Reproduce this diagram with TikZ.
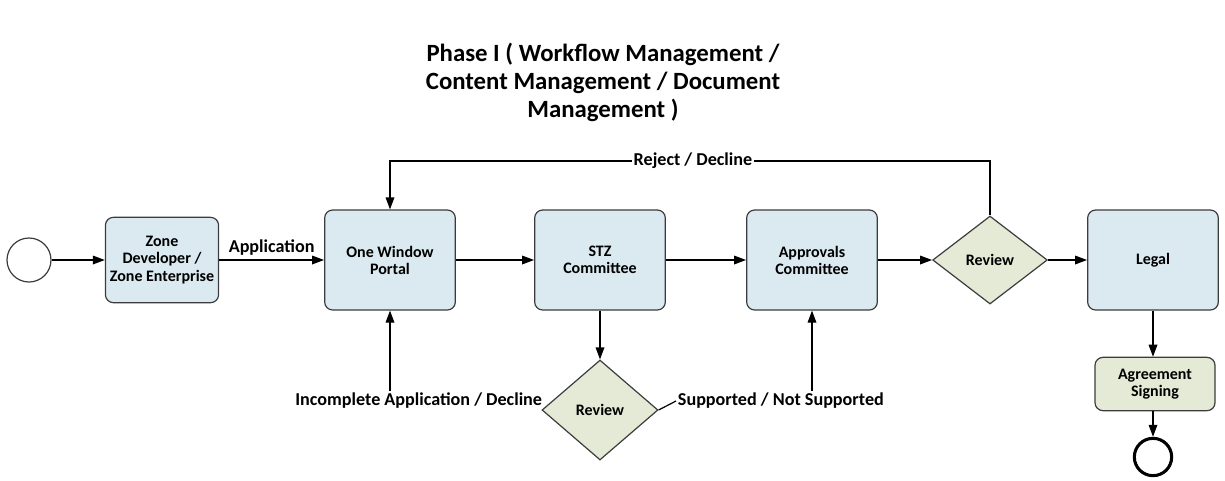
\documentclass[tikz,border=0pt]{standalone}
\usepackage{fontspec}
\setmainfont{Carlito}
\usetikzlibrary{arrows.meta,shapes.geometric}

\definecolor{taskblue}{RGB}{219,234,241}
\definecolor{gatewaygreen}{RGB}{228,234,214}
\definecolor{linegray}{RGB}{60,60,60}

\begin{document}
\begin{tikzpicture}[x=0.75pt,y=-0.75pt,->,>={Triangle[length=9pt,width=6.5pt]},
                    line width=0.9pt,
                    font=\bfseries\fontsize{12}{12.8}\selectfont]

  \tikzstyle{task}=[rectangle,rounded corners=6pt,draw=linegray,line width=0.9pt,
                    fill=taskblue,align=center,minimum width=98pt,minimum height=75pt]
  \tikzstyle{gateway}=[diamond,draw=linegray,line width=0.9pt,fill=gatewaygreen,
                       inner sep=0pt]
  \tikzstyle{event}=[circle,draw=linegray,line width=0.9pt,fill=white,
                     minimum size=33pt,inner sep=0pt]
  \tikzstyle{flowlabel}=[inner sep=1pt,font=\bfseries\fontsize{13.6}{15}\selectfont]

  \useasboundingbox (0,0) rectangle (1225,480);

  % title
  \node[align=center,font=\bfseries\fontsize{18.6}{21}\selectfont] (title) at (603,82)
    {Phase I ( Workflow Management /\\ Content Management / Document\\ Management )};

  % main lane
  \node[event] (start) at (29,260) {};
  \node[task,minimum width=84pt,minimum height=64pt] (zone) at (162,260)
    {Zone\\ Developer /\\ Zone Enterprise};
  \node[task] (portal) at (390,260) {One Window\\ Portal};
  \node[task] (stz)    at (600,260) {STZ\\ Committee};
  \node[task] (approvals) at (812,260) {Approvals\\ Committee};
  \node[gateway,minimum width=86pt,minimum height=66pt] (review) at (990,260) {Review};
  \node[task] (legal)  at (1153,260) {Legal};

  \node[task,fill=gatewaygreen,minimum width=90pt,minimum height=40pt] (signing)
    at (1155,384) {Agreement\\ Signing};
  \node[event,line width=2.3pt,draw=black,minimum size=28pt] (end) at (1153,457) {};

  % committee review
  \node[gateway,minimum width=87pt,minimum height=75pt] (stzreview) at (600,410) {Review};
  \node[flowlabel,anchor=east] (incomplete) at (544,401) {Incomplete Application / Decline};
  \node[flowlabel,anchor=west] (supported)  at (676,401) {Supported / Not Supported};
  \node[flowlabel] (reject) at (693,161) {Reject / Decline};

  \draw (start) -- (zone);
  \draw (zone) -- node[flowlabel,above=2pt] {Application} (portal);
  \draw (portal) -- (stz);
  \draw (stz) -- (approvals);
  \draw (approvals) -- (review);
  \draw (review) -- (legal);
  \draw (legal.south) -- (legal.south |- signing.north);
  \draw (signing.south -| end.north) -- (end.north);

  \draw (stz) -- (stzreview);
  \draw (incomplete.north -| portal.south) -- (portal.south);
  \draw[-] (stzreview.east) -- (supported.west);
  \draw (supported.north -| approvals.south) -- (approvals.south);

  \draw[-] (review.north) |- (reject.east);
  \draw (reject.west) -| (portal.north);
\end{tikzpicture}
\end{document}
